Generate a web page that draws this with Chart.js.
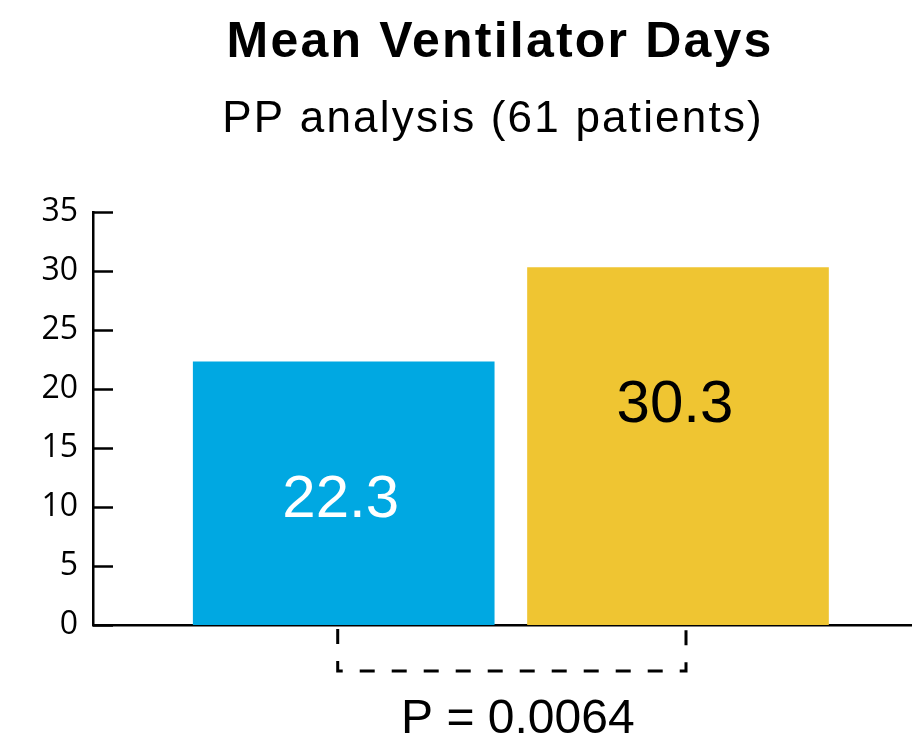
<!DOCTYPE html>
<html>
<head>
<meta charset="utf-8">
<script src="https://cdn.jsdelivr.net/npm/chart.js@4"></script>
<style>
  html, body { margin: 0; padding: 0; background: #fff; }
  #wrap { width: 912px; height: 740px; }
</style>
</head>
<body>
<div id="wrap"><canvas id="myChart" width="912" height="740"></canvas></div>
<script>
const groups = ['Group A', 'Group B']
const meanDays = [22.3, 30.3]
const barColors = ['#00a8e2', '#efc532']
const labelColors = ['#ffffff', '#000000']
const yTicks = [0, 5, 10, 15, 20, 25, 30, 35]
const titleText = 'Mean Ventilator Days'
const subtitleText = 'PP analysis (61 patients)'
const pText = 'P = 0.0064'

const ctx = document.getElementById('myChart').getContext('2d')

function spacedText(c, text, cx, y, spacing) {
    c.letterSpacing = spacing + 'px'
    const w = c.measureText(text).width - spacing
    c.textAlign = 'left'
    c.fillText(text, cx - w / 2, y)
    c.letterSpacing = '0px'
}

const extras = {
    id: 'extras',
    afterDraw(chart) {
        const c = chart.ctx
        const area = chart.chartArea
        const yScale = chart.scales.y
        const bars = chart.getDatasetMeta(0).data
        c.save()

        // inward tick marks
        c.strokeStyle = '#000'
        c.lineWidth = 2.5
        yScale.ticks.forEach(t => {
            const py = Math.round(yScale.getPixelForValue(t.value)) + 0.5
            c.beginPath()
            c.moveTo(area.left, py)
            c.lineTo(area.left + 20, py)
            c.stroke()
        })

        // value labels
        c.font = '60px "Liberation Sans", Arial, sans-serif'
        c.textAlign = 'center'
        c.textBaseline = 'alphabetic'
        bars.forEach((b, i) => {
            c.fillStyle = labelColors[i]
            c.fillText(meanDays[i].toFixed(1), b.x - 3, b.y + 155)
        })

        // dashed bracket
        const x1 = bars[0].x - 6
        const x2 = bars[1].x + 8
        c.setLineDash([15, 17])
        c.lineWidth = 3
        c.beginPath()
        c.moveTo(x1, area.bottom + 4)
        c.lineTo(x1, area.bottom + 46)
        c.lineTo(x2, area.bottom + 46)
        c.lineTo(x2, area.bottom + 4)
        c.stroke()
        c.setLineDash([])

        // titles and p value
        c.fillStyle = '#000'
        c.textBaseline = 'alphabetic'
        c.font = 'bold 50px "Liberation Sans", Arial, sans-serif'
        spacedText(c, titleText, 499, 57, 2.2)
        c.font = '44px "Liberation Sans", Arial, sans-serif'
        spacedText(c, subtitleText, 492, 132, 2.2)
        c.font = '48px "Liberation Sans", Arial, sans-serif'
        spacedText(c, pText, (x1 + x2) / 2 + 6, 733, 0)

        c.restore()
    }
}

const chart = new Chart(ctx, {
    type: 'bar',
    data: {
        datasets: [{
            label: 'Mean ventilator days',
            data: meanDays.map((v, i) => ({ x: i + 1, y: v })),
            backgroundColor: barColors,
            borderWidth: 0,
            barThickness: 301
        }]
    },
    options: {
        responsive: false,
        animation: false,
        layout: { padding: { top: 212, right: 0, bottom: 115, left: 0 } },
        plugins: {
            legend: { display: false },
            tooltip: { enabled: false }
        },
        scales: {
            x: {
                type: 'linear',
                min: 0.25,
                max: 2.7,
                offset: false,
                afterFit: s => { s.height = 0 },
                grid: { display: false, drawTicks: false },
                ticks: { display: false },
                border: { color: '#000', width: 2.5 }
            },
            y: {
                min: 0,
                max: 35,
                afterBuildTicks: s => { s.ticks = yTicks.map(v => ({ value: v })) },
                afterFit: s => { s.width = 93 },
                grid: { display: false, drawTicks: false },
                border: { color: '#000', width: 2.5 },
                ticks: {
                    padding: 15,
                    color: '#000',
                    font: { family: '"Open Sans", sans-serif', size: 32 }
                }
            }
        }
    },
    plugins: [extras]
})
</script>
</body>
</html>
